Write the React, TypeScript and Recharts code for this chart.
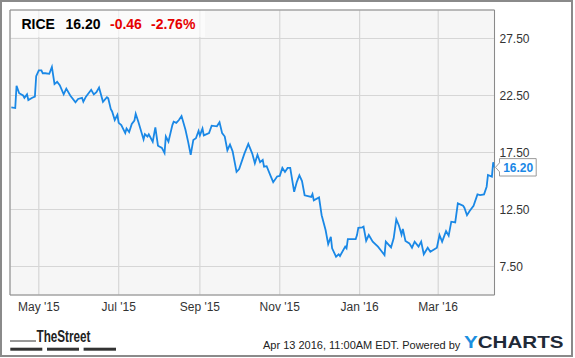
import React from 'react';
import { LineChart, Line, XAxis, YAxis, CartesianGrid, ReferenceArea, ReferenceDot } from 'recharts';

const FONT = '"Liberation Sans", Arial, Helvetica, sans-serif';

const ticker = 'RICE';
const lastPrice = '16.20';
const changeAbs = '-0.46';
const changePct = '-2.76%';
const timestamp = 'Apr 13 2016, 11:00AM EDT.';

// trading days, counted in days since May 1 2015
const days = [
  -21, -18, -17, -15, -12, -11, -9, -8, -5, -3, -2, 0, 2, 3, 5, 8, 10, 12, 14, 16, 19, 21, 24, 28, 30, 33, 34, 36, 40, 42, 44, 46, 49,
  52, 53, 55, 56, 58, 60, 61, 63, 66, 67, 69, 71, 73, 74, 76, 80, 81, 83, 84, 87, 89, 91, 94, 96, 97, 99, 102, 103, 105, 107, 109, 112,
  114, 116, 118, 120, 122, 123, 125, 126, 130, 132, 136, 138, 140, 142, 144, 146, 148, 151, 153, 157, 160, 163, 165, 167, 169, 171, 172,
  174, 177, 179, 182, 184, 186, 188, 190, 192, 195, 197, 199, 201, 203, 208, 209, 210, 214, 216, 219, 221, 223, 224, 227, 229, 230, 234,
  235, 236, 239, 242, 243, 244, 247, 248, 250, 252, 255, 259, 261, 264, 265, 269, 271, 273, 275, 277, 278, 280, 283, 285, 287, 290, 292,
  294, 297, 299, 304, 306, 308, 311, 313, 315, 318, 320, 324, 325, 327, 329, 332, 335, 337, 340, 342, 343, 346, 347, 348,
];

const prices = [
  21.46, 21.4, 23.36, 22.7, 22.5, 22.3, 22.6, 22.1, 22.3, 22.4, 24.2, 24.7, 24.7, 24.45, 24.45, 24.4, 25.0, 23.5, 23.7, 23.4, 22.6, 23.1,
  22.5, 21.9, 22.2, 22.3, 21.95, 22.4, 23.0, 22.6, 22.8, 23.2, 21.95,
  22.35, 22.25, 21.3, 21.1, 20.35, 20.8, 20.1, 19.9, 19.2, 19.6, 19.3, 20.0, 20.3, 20.9, 20.2, 18.65, 19.1, 18.9, 19.1, 18.45, 19.7,
  18.1, 17.9, 17.45, 18.9, 18.45, 19.9, 20.2, 20.1, 20.35, 20.7, 19.5,
  18.45, 17.3, 18.6, 18.75, 19.4, 19.0, 19.6, 19.0, 19.2, 19.85, 19.8, 20.15, 19.2, 18.9, 17.7, 18.2, 17.6, 15.8, 16.05, 17.4, 18.25,
  17.4, 16.55, 17.3, 16.65, 16.85, 16.25,
  16.3, 15.45, 14.9, 15.4, 15.45, 16.15, 15.8, 16.15, 16.15, 14.05, 14.9, 15.5, 15.0, 13.75, 13.6, 13.85, 13.3, 13.55, 12.0, 10.7, 9.47,
  10.1, 9.1, 8.36, 8.57, 8.42, 9.24,
  9.1, 9.9, 9.9, 9.9, 10.26, 10.9, 10.94, 11.0, 9.76, 10.26, 9.68, 9.24, 8.95, 8.5, 9.68, 9.18, 9.97, 11.64, 11.1, 10.3, 10.8, 9.74,
  9.53, 9.15, 9.68, 9.24, 9.68,
  8.57, 9.15, 8.8, 9.15, 10.26, 9.68, 10.6, 10.2, 11.43, 11.37, 13.04, 12.83, 12.66, 12.0, 12.37, 12.83, 13.83, 13.77, 13.83, 14.5,
  15.53, 15.38, 16.64, 16.2,
];

const xTickDays = [0, 61, 123, 184, 245, 305];
const xTickLabels = ["May '15", "Jul '15", "Sep '15", "Nov '15", "Jan '16", "Mar '16"];
const yTicks = [7.5, 12.5, 17.5, 22.5, 27.5];
const xDomain: [number, number] = [-22, 348];
const yDomain: [number, number] = [5, 30];

const data = days.map((d, i) => ({ day: d, price: prices[i] }));

const LINE_BLUE = '#1a88e6';

const PriceTag = (props: any) => {
  const { cx, cy } = props;
  if (cx == null || cy == null) return null;
  const tip = cx + 1;
  const bx = cx + 5;
  const right = cx + 41.7;
  const h = 8.7;
  const pts = `${tip},${cy} ${bx},${cy - 4.5} ${bx},${cy - h} ${right},${cy - h} ${right},${cy + h} ${bx},${cy + h} ${bx},${cy + 4.5}`;
  return (
    <g>
      <polygon points={pts} fill="#ffffff" stroke="#9a9a9a" strokeWidth={1} />
      <text x={bx + 3.7} y={cy + 4.4} fill={LINE_BLUE} fontSize={12} fontWeight="bold" fontFamily={FONT}>
        {lastPrice}
      </text>
    </g>
  );
};

export default function App() {
  return (
    <div style={{ position: 'absolute', left: 0, top: 0, width: 575, height: 358, background: '#ffffff', fontFamily: FONT, overflow: 'hidden' }}>
      <div style={{ position: 'absolute', left: 0, top: 0, width: 573, height: 357, boxSizing: 'border-box', border: '2px solid #8a8a8a' }} />
      <div style={{ position: 'absolute', left: 0, top: 0 }}>
        <LineChart width={575} height={358} data={data} margin={{ top: 10, left: 10, right: 0, bottom: 33 }}>
          <CartesianGrid fill="#f6f6f6" stroke="#d6d6d6" strokeWidth={1.2} />
          <XAxis
            dataKey="day"
            type="number"
            domain={xDomain}
            ticks={xTickDays}
            interval={0}
            allowDataOverflow
            tickFormatter={(v: number) => xTickLabels[xTickDays.indexOf(v)] ?? ''}
            axisLine={false}
            tickLine={false}
            tickSize={5}
            tickMargin={2}
            height={30}
            tick={{ fill: '#333333', fontSize: 12, fontFamily: FONT }}
          />
          <YAxis
            orientation="right"
            type="number"
            domain={yDomain}
            ticks={yTicks}
            interval={0}
            allowDataOverflow
            tickFormatter={(v: number) => v.toFixed(2)}
            axisLine={false}
            tickLine={false}
            width={80.5}
            tickSize={3}
            tickMargin={2}
            tick={{ fill: '#333333', fontSize: 12, fontFamily: FONT, textAnchor: 'start' }}
          />
          <ReferenceArea x1={xDomain[0]} x2={xDomain[1]} y1={yDomain[0]} y2={yDomain[1]} fill="none" stroke="#8a8a8a" strokeWidth={1} ifOverflow="visible" />
          <Line type="linear" dataKey="price" stroke={LINE_BLUE} strokeWidth={1.8} dot={false} activeDot={false} isAnimationActive={false} />
          <ReferenceDot x={348} y={16.2} r={0} shape={PriceTag} ifOverflow="visible" />
        </LineChart>
      </div>
      <div style={{ position: 'absolute', left: 11, top: 11, width: 194, height: 26, background: 'rgba(255,255,255,0.6)' }} />
      <svg width={575} height={358} style={{ position: 'absolute', left: 0, top: 0, pointerEvents: 'none' }} fontFamily={FONT}>
        <g fontSize={14} fontWeight="bold">
          <text x={21.5} y={29.3} fill="#000">{ticker}</text>
          <text x={65.5} y={29.3} fill="#000">{lastPrice}</text>
          <text x={110} y={29.3} fill="#e60000">{changeAbs}</text>
          <text x={151} y={29.3} fill="#e60000">{changePct}</text>
        </g>
        <line x1={10} x2={36} y1={341} y2={341} stroke="#333" strokeWidth={1} />
        <text x={36.5} y={341.5} fontSize={16} fontWeight="bold" fill="#222" textLength={54} lengthAdjust="spacingAndGlyphs">TheStreet</text>
        <rect x={10.3} y={347.7} width={32} height={3} fill="#333" />
        <rect x={47} y={347.7} width={32} height={3} fill="#333" />
        <rect x={83.6} y={347.7} width={32.4} height={3} fill="#333" />
        <text x={263} y={348.5} fontSize={11} fill="#222">{timestamp} Powered by</text>
        <text x={464} y={348.3} fontSize={17} fontWeight="bold" textLength={99.6} lengthAdjust="spacingAndGlyphs">
          <tspan fill="#1b8fe0">Y</tspan>
          <tspan fill="#1f2a38">CHARTS</tspan>
        </text>
      </svg>
    </div>
  );
}
